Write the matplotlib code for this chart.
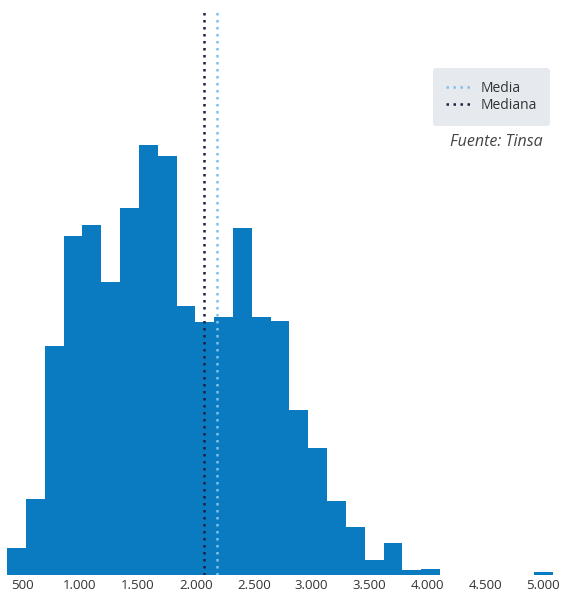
import numpy as np
import matplotlib.pyplot as plt
from matplotlib.ticker import FuncFormatter

# bin counts (29 equal bins)
counts = [27, 76, 229, 339, 350, 293, 367, 430, 419, 269, 253, 258, 347, 258, 254,
          165, 127, 74, 48, 15, 32, 5, 6, 0, 0, 0, 0, 0, 3]
bin_min = 370
bin_max = 5085
media = 2183
mediana = 2071
tick_values = [500, 1000, 1500, 2000, 2500, 3000, 3500, 4000, 4500, 5000]

bar_color = "#0b7bc1"
mean_color = "#7fc1ea"
median_color = "#1b2240"

plt.rcParams['font.family'] = ['Open Sans', 'DejaVu Sans']

fig = plt.figure(figsize=(5.62, 5.96), dpi=100)
ax = fig.add_axes([5 / 562, 21 / 596, 552 / 562, 567 / 596])

edges = np.linspace(bin_min, bin_max, len(counts) + 1)
ax.stairs(counts, edges, fill=True, color=bar_color, linewidth=0)

ax.axvline(media, color=mean_color, linestyle=(0, (1, 1.8)), linewidth=1.8, label="Media")
ax.axvline(mediana, color=median_color, linestyle=(0, (1, 1.8)), linewidth=1.8, label="Mediana")

ax.set_xlim(352, 5119)
ax.set_ylim(0, 567)
ax.set_xticks(tick_values)
ax.xaxis.set_major_formatter(FuncFormatter(lambda v, p: f"{int(v):,}".replace(",", ".")))
ax.tick_params(axis="x", length=0, pad=3, labelsize=9.5, labelcolor="#333333")
ax.set_yticks([])
for s in ax.spines.values():
    s.set_visible(False)

leg = ax.legend(loc="upper right", bbox_to_anchor=(545 / 552, 1 - 60 / 567), frameon=True,
                fancybox=True, facecolor="#e6e9ed", edgecolor="none", framealpha=1,
                fontsize=10, handlelength=2.0, handletextpad=0.5, borderpad=0.95,
                labelspacing=0.1, borderaxespad=0)
for t in leg.get_texts():
    t.set_color("#333333")

fig.text(543 / 562, 1 - 142 / 596, "Fuente: Tinsa", ha="right", va="center",
         fontsize=11.5, style="italic", color="#444444")

fig.savefig("out.png", dpi=100)
